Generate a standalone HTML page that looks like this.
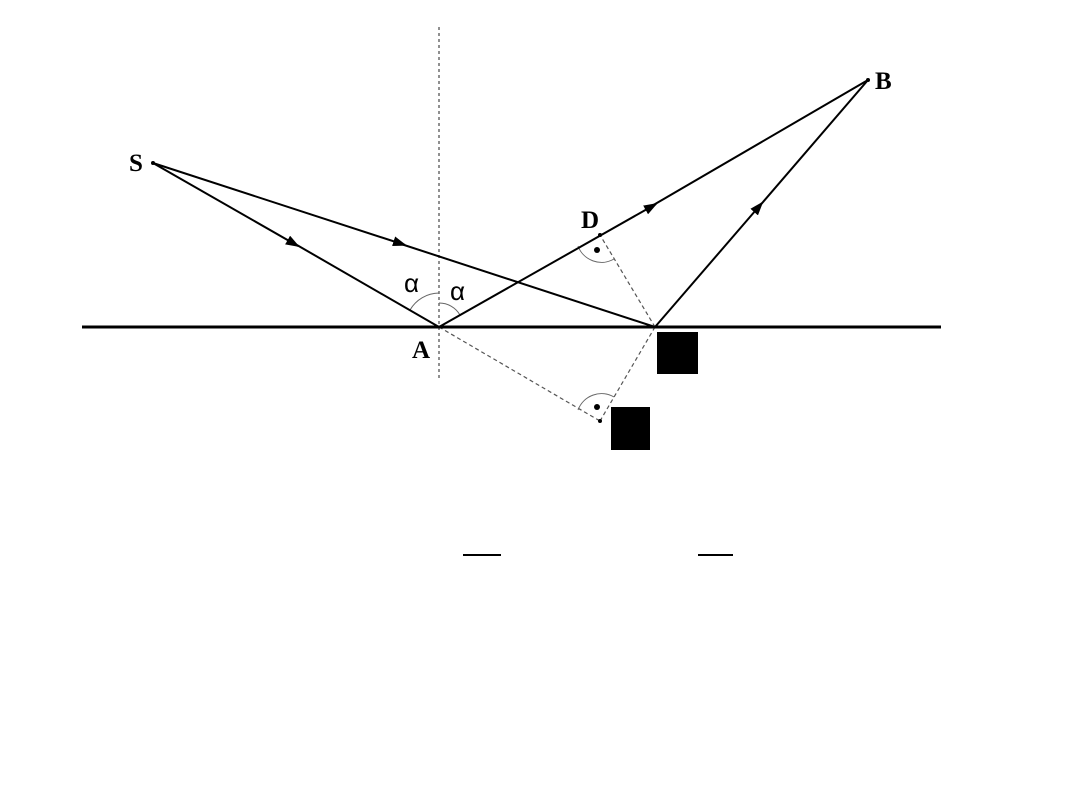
<!DOCTYPE html>
<html><head><style>body{margin:0;background:#fff}svg{display:block}</style></head>
<body>
<svg width="1080" height="810" viewBox="0 0 1080 810" xmlns="http://www.w3.org/2000/svg">
<defs>
<marker id="ar" markerWidth="14" markerHeight="10" refX="12" refY="5" orient="auto" markerUnits="userSpaceOnUse">
<polygon points="0,0 14,5 0,10" fill="#000"/></marker>
</defs>
<rect width="1080" height="810" fill="#fff"/>
<line x1="439" y1="27" x2="439" y2="380" stroke="#555" stroke-width="1.3" stroke-dasharray="3,3"/>
<g stroke="#555" stroke-width="1.2" stroke-dasharray="4,3" fill="none">
<line x1="439" y1="327" x2="600" y2="421"/>
<line x1="655" y1="327" x2="600" y2="421"/>
<line x1="655" y1="327" x2="600" y2="235"/>
</g>
<g stroke="#666" stroke-width="1" fill="none">
<path d="M410,310 A34,34 0 0 1 439,293"/>
<path d="M439,303 A24,24 0 0 1 460,315"/>
<path d="M578,246 A25,25 0 0 0 614,259"/>
<path d="M578,410 A25,25 0 0 1 614,397"/>
</g>
<circle cx="597" cy="250" r="3" fill="#000"/>
<circle cx="597" cy="407" r="3" fill="#000"/>
<line x1="82" y1="327" x2="941" y2="327" stroke="#000" stroke-width="3"/>
<g stroke="#000" stroke-width="2" fill="none">
<line x1="153" y1="163" x2="298" y2="246" marker-end="url(#ar)"/>
<line x1="290" y1="241" x2="439" y2="327"/>
<line x1="153" y1="163" x2="405" y2="245" marker-end="url(#ar)"/>
<line x1="398" y1="243" x2="655" y2="327"/>
<line x1="439" y1="327" x2="656" y2="204" marker-end="url(#ar)"/>
<line x1="650" y1="207" x2="868" y2="80"/>
<line x1="655" y1="327" x2="762" y2="203" marker-end="url(#ar)"/>
<line x1="757" y1="209" x2="868" y2="80"/>
</g>
<circle cx="153" cy="163" r="2" fill="#000"/>
<circle cx="868" cy="80" r="2" fill="#000"/>
<circle cx="600" cy="235" r="2" fill="#000"/>
<circle cx="600" cy="421" r="2" fill="#000"/>
<g font-family="Liberation Serif, serif" font-weight="bold" font-size="25" fill="#000">
<text x="129" y="171">S</text>
<text x="875" y="89">B</text>
<text x="581" y="228">D</text>
<text x="412" y="358">A</text>
</g>
<g font-family="Liberation Sans, sans-serif" font-size="26" fill="#000">
<text x="404" y="292">α</text>
<text x="450" y="300">α</text>
</g>
<rect x="657" y="332" width="41" height="42" fill="#000"/>
<rect x="611" y="407" width="39" height="43" fill="#000"/>
<line x1="463" y1="555" x2="501" y2="555" stroke="#000" stroke-width="2"/>
<line x1="698" y1="555" x2="733" y2="555" stroke="#000" stroke-width="2"/>
</svg>
</body></html>
